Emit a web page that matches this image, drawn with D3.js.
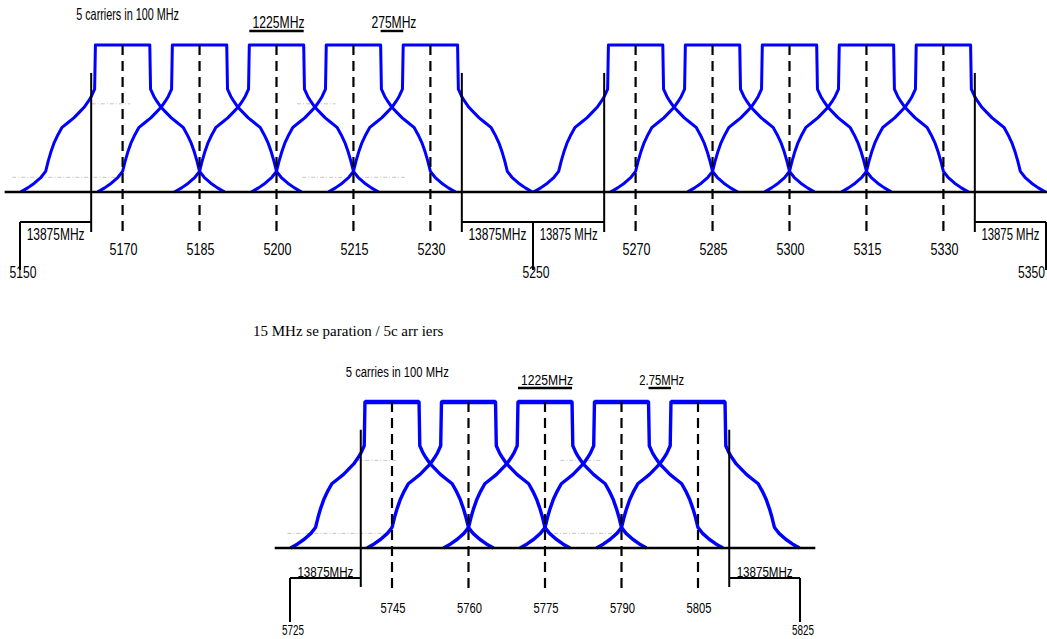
<!DOCTYPE html>
<html>
<head>
<meta charset="utf-8">
<script src="https://cdn.jsdelivr.net/npm/d3@7"></script>
<style>
  body { margin: 0; background: #fff; }
  svg { display: block; }
</style>
</head>
<body>
<svg id="chart" width="1047" height="639"></svg>
<script>
// spectrum mask of one carrier, one side: offset from centre (MHz) and level (dBr)
var maskOffsets = [5.3, 5.45, 6.1, 6.7, 7.5, 8.5, 9.5, 10.5, 11.8, 12.6, 13.4, 14.0, 14.5, 15.0, 15.9, 17.2, 18.5, 19.9];
var maskLevels  = [0, -15, -17.5, -19.2, -21.2, -23, -24.8, -26.2, -28, -30.5, -33.5, -36.5, -39.5, -43, -45, -47, -48.6, -50];

// upper diagram: 5150 - 5350 MHz
var topCarriers = [5170, 5185, 5200, 5215, 5230, 5270, 5285, 5300, 5315, 5330];
var topBandEdges = [5163.875, 5236.125, 5263.875, 5336.125];
var topLimits = [5150, 5250, 5350];
var topBracketLabels = ["13875MHz", "13875MHz", "13875 MHz", "13875 MHz"];
var topTitle = "5 carriers in 100 MHz";
var topWidthLabel = "1225MHz";
var topGapLabel = "275MHz";
// faint reference levels: [from MHz, to MHz, level dBr]
var topGuides = [[5164, 5171.5, -20], [5204, 5211.5, -20], [5148.5, 5170, -45], [5205, 5225, -45]];

// lower diagram: 5725 - 5825 MHz
var bottomCarriers = [5745, 5760, 5775, 5790, 5805];
var bottomBandEdges = [5738.875, 5811.125];
var bottomLimits = [5725, 5825];
var bottomBracketLabels = ["13875MHz", "13875MHz"];
var bottomTitle = "5 carries in 100 MHz";
var bottomWidthLabel = "1225MHz";
var bottomGapLabel = "2.75MHz";
var bottomGuides = [[5738, 5746, -20], [5778, 5786, -20], [5724.5, 5744.5, -45], [5775, 5790, -45]];

var middleTitle = "15 MHz se paration / 5c arr iers";

var W = 1047, H = 639;
var svg = d3.select("#chart");
svg.append("rect").attr("width", W).attr("height", H).attr("fill", "#fff");
svg.style("font-family", "'Liberation Sans', Arial, sans-serif");

function maskPoints(c) {
  var pts = [];
  for (var i = maskOffsets.length - 1; i >= 0; i--) pts.push([c - maskOffsets[i], maskLevels[i]]);
  for (var j = 0; j < maskOffsets.length; j++) pts.push([c + maskOffsets[j], maskLevels[j]]);
  return pts;
}

// the source uses a very condensed face: squeeze each text to a given width
function squeeze(sel, width) {
  sel.each(function (d, i) {
    var w = typeof width === "function" ? width(d, i) : width;
    var len = this.getComputedTextLength();
    var tx = +this.getAttribute("x"), ty = +this.getAttribute("y");
    if (this.getAttribute("text-anchor") === "middle") tx = Math.min(tx, W - w / 2 - 2);
    this.setAttribute("x", 0);
    this.setAttribute("y", 0);
    this.setAttribute("transform", "translate(" + tx + "," + ty + ") scale(" + (w / len) + ",1)");
  });
}

function drawPanel(cfg) {
  var x = d3.scaleLinear().domain([cfg.limits[0], cfg.limits[cfg.limits.length - 1]]).range(cfg.xRange);
  var y = d3.scaleLinear().domain([-50, 0]).range(cfg.yRange);
  var base = y(-50), top = y(0);
  var g = svg.append("g");
  var line = d3.line().x(function (d) { return x(d[0]) }).y(function (d) { return y(d[1]) });
  var hw = maskOffsets[0];

  // faint level guides
  g.selectAll(null).data(cfg.guides).enter().append("line")
    .attr("x1", function (d) { return x(d[0]) }).attr("x2", function (d) { return x(d[1]) })
    .attr("y1", function (d) { return y(d[2]) }).attr("y2", function (d) { return y(d[2]) })
    .attr("stroke", "#b8b8b8").attr("stroke-width", 0.8).attr("stroke-dasharray", "4,2,1,2");

  // carrier masks
  g.selectAll(null).data(cfg.carriers).enter().append("path")
    .datum(function (c) { return maskPoints(c) })
    .attr("d", line)
    .attr("fill", "none")
    .attr("stroke", "#0000ff")
    .attr("stroke-width", cfg.blueWidth)
    .attr("stroke-linejoin", "round");

  // thicker flat tops (lower diagram)
  if (cfg.topWidth) {
    g.selectAll(null).data(cfg.carriers).enter().append("line")
      .attr("x1", function (d) { return x(d - hw) }).attr("x2", function (d) { return x(d + hw) })
      .attr("y1", top).attr("y2", top)
      .attr("stroke", "#0000ff").attr("stroke-width", cfg.topWidth);
  }

  // baseline
  g.append("line")
    .attr("x1", x(cfg.baseSpan[0])).attr("x2", x(cfg.baseSpan[1]))
    .attr("y1", base).attr("y2", base)
    .attr("stroke", "black").attr("stroke-width", 2.4);

  // carrier centre lines
  g.selectAll(null).data(cfg.carriers).enter().append("line")
    .attr("x1", function (d) { return x(d) }).attr("x2", function (d) { return x(d) })
    .attr("y1", top).attr("y2", base + cfg.dashBelow)
    .attr("stroke", "black").attr("stroke-width", 2.2).attr("stroke-dasharray", "10,6");

  // band edges
  g.selectAll(null).data(cfg.edges).enter().append("line")
    .attr("x1", function (d) { return x(d) }).attr("x2", function (d) { return x(d) })
    .attr("y1", y(-9.5)).attr("y2", base + cfg.edgeBelow)
    .attr("stroke", "black").attr("stroke-width", 2);

  // brackets: each band edge to nearest band limit
  var brackets = cfg.edges.map(function (e, i) {
    var lim = cfg.limits.reduce(function (a, b) { return Math.abs(b - e) < Math.abs(a - e) ? b : a });
    return { edge: e, limit: lim, label: cfg.bracketLabels[i] };
  });
  var by = base + cfg.bracketDrop;
  g.selectAll(null).data(brackets).enter().append("line")
    .attr("x1", function (d) { return x(d.edge) }).attr("x2", function (d) { return x(d.limit) })
    .attr("y1", by).attr("y2", by)
    .attr("stroke", "black").attr("stroke-width", 2);
  g.selectAll(null).data(cfg.limits).enter().append("line")
    .attr("x1", function (d) { return x(d) }).attr("x2", function (d) { return x(d) })
    .attr("y1", by).attr("y2", base + cfg.limitBelow)
    .attr("stroke", "black").attr("stroke-width", 2);
  g.selectAll(null).data(brackets).enter().append("text")
    .attr("x", function (d) { return (x(d.edge) + x(d.limit)) / 2 })
    .attr("y", base + cfg.bracketTextY)
    .attr("text-anchor", "middle")
    .attr("font-size", cfg.fontSize)
    .text(function (d) { return d.label })
    .call(squeeze, cfg.bracketTextLen);

  // frequency labels
  g.selectAll(null).data(cfg.carriers).enter().append("text")
    .attr("x", function (d) { return x(d) + 1 })
    .attr("y", base + cfg.tickTextY)
    .attr("text-anchor", "middle")
    .attr("font-size", cfg.fontSize)
    .text(function (d) { return d })
    .call(squeeze, cfg.tickTextLen);
  g.selectAll(null).data(cfg.limits).enter().append("text")
    .attr("x", function (d) { return x(d) + 3 })
    .attr("y", base + cfg.limitTextY)
    .attr("text-anchor", "middle")
    .attr("font-size", cfg.fontSize)
    .text(function (d) { return d })
    .call(squeeze, cfg.limitTextLen);

  // annotations above
  g.append("text")
    .attr("x", x(cfg.edges[0]) - 15).attr("y", top - 25)
    .attr("font-size", cfg.fontSize)
    .text(cfg.title)
    .call(squeeze, 103);
  var wc = cfg.carriers[2], gapA = cfg.carriers[3] + hw, gapB = cfg.carriers[4] - hw;
  var spans = [[wc - hw, wc + hw, cfg.widthLabel, 52], [gapA, gapB, cfg.gapLabel, 45]];
  g.selectAll(null).data(spans).enter().append("line")
    .attr("x1", function (d) { return x(d[0]) }).attr("x2", function (d) { return x(d[1]) })
    .attr("y1", top - 14).attr("y2", top - 14)
    .attr("stroke", "black").attr("stroke-width", 2.4);
  g.selectAll(null).data(spans).enter().append("text")
    .attr("x", function (d) { return (x(d[0]) + x(d[1])) / 2 + 2 })
    .attr("y", top - 17)
    .attr("text-anchor", "middle")
    .attr("font-size", cfg.fontSize)
    .text(function (d) { return d[2] })
    .call(squeeze, function (d) { return d[3] });
}

drawPanel({
  carriers: topCarriers, edges: topBandEdges, limits: topLimits, guides: topGuides,
  bracketLabels: topBracketLabels, title: topTitle, widthLabel: topWidthLabel, gapLabel: topGapLabel,
  xRange: [20, 1046], yRange: [192, 45], baseSpan: [5147, 5360],
  blueWidth: 3, topWidth: 0, fontSize: 16.5, dashBelow: 42, edgeBelow: 40, bracketDrop: 30, limitBelow: 78,
  bracketTextY: 48, tickTextY: 63, limitTextY: 86,
  bracketTextLen: 58, tickTextLen: 28, limitTextLen: 27
});

drawPanel({
  carriers: bottomCarriers, edges: bottomBandEdges, limits: bottomLimits, guides: bottomGuides,
  bracketLabels: bottomBracketLabels, title: bottomTitle, widthLabel: bottomWidthLabel, gapLabel: bottomGapLabel,
  xRange: [290, 800], yRange: [548, 402], baseSpan: [5722, 5828],
  blueWidth: 3.4, topWidth: 4.6, fontSize: 15, dashBelow: 42, edgeBelow: 39, bracketDrop: 30, limitBelow: 74,
  bracketTextY: 29, tickTextY: 65, limitTextY: 87,
  bracketTextLen: 56, tickTextLen: 25, limitTextLen: 22
});

svg.append("text")
  .attr("x", 253).attr("y", 336)
  .attr("font-family", "'Liberation Serif', 'Times New Roman', serif")
  .attr("font-size", 15)
  .text(middleTitle);
</script>
</body>
</html>
